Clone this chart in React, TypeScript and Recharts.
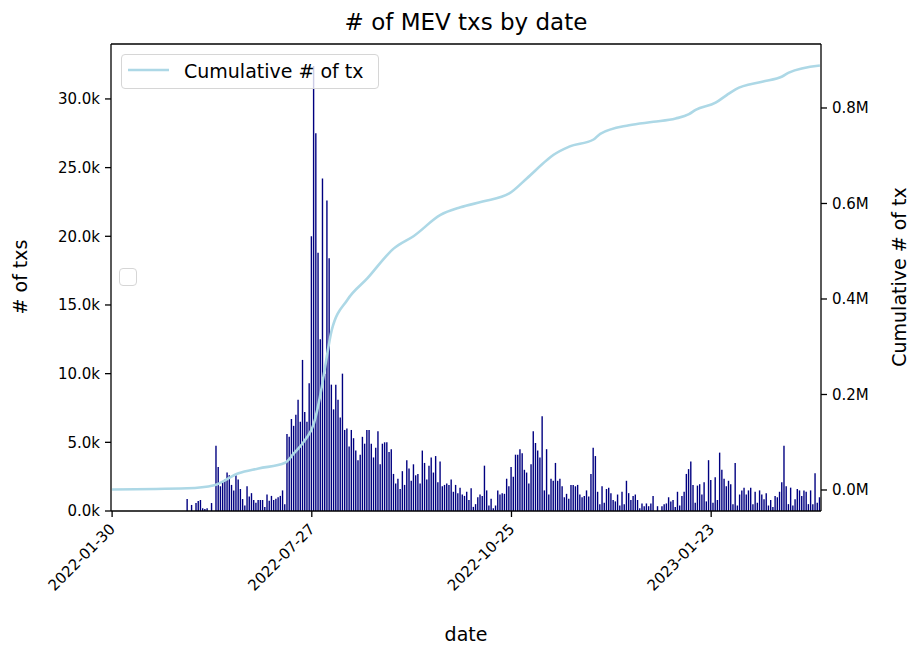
import { ComposedChart, Bar, Line, XAxis, YAxis, Legend, ReferenceLine } from 'recharts'

// daily MEV tx counts, one entry per date in the frame (index 0 = 2022-01-30)
const txCounts = [
  0, 0, 0, 0, 0, 0, 0, 0, 0, 0,
  0, 0, 0, 0, 0, 0, 0, 0, 0, 0,
  0, 0, 0, 0, 0, 0, 0, 0, 0, 0,
  0, 0, 0, 0, 870, 0, 440, 0, 580, 730,
  800, 200, 150, 200, 0, 580, 0, 4750, 3200, 1800,
  2100, 2300, 2800, 2600, 1900, 1500, 2600, 2300, 1600, 870,
  400, 1800, 1050, 1300, 800, 600, 800, 800, 800, 300,
  1200, 750, 1100, 800, 900, 1000, 1100, 1500, 500, 5600,
  5400, 6700, 6200, 7000, 8100, 6500, 11000, 7200, 6500, 9300,
  20000, 32400, 27500, 18800, 12500, 24200, 10000, 22600, 18400, 9200,
  7400, 9200, 8100, 6800, 10000, 5900, 6000, 4700, 5900, 5300,
  4400, 3700, 4100, 5400, 4900, 5900, 5900, 4900, 3900, 4600,
  5800, 3400, 4900, 5000, 5000, 4300, 4500, 2700, 2000, 2350,
  1600, 2900, 1900, 3700, 3100, 2200, 3400, 2600, 2700, 2000,
  4400, 3500, 2300, 3300, 3900, 2800, 4000, 2100, 3600, 1800,
  1900, 2000, 1900, 2300, 1400, 1900, 1300, 1700, 1200, 1100,
  1400, 800, 1650, 300, 500, 1000, 1200, 1100, 3300, 1500,
  400, 900, 200, 400, 1500, 1200, 1300, 1250, 2350, 1800,
  3200, 2500, 4100, 4100, 4500, 4200, 3000, 2800, 2000, 3400,
  5800, 4950, 4400, 3900, 6900, 1500, 4500, 1200, 2350, 2200,
  3500, 2200, 2350, 1800, 1000, 1250, 900, 1900, 1900, 1800,
  1900, 1200, 1000, 1100, 1500, 1050, 2700, 4600, 4000, 1400,
  500, 1800, 600, 1600, 1700, 1300, 800, 700, 1200, 400,
  1400, 500, 2200, 1300, 800, 1100, 1200, 800, 200, 550,
  350, 550, 350, 550, 1100, 0, 350, 0, 350, 500,
  550, 1000, 700, 800, 300, 1400, 400, 1100, 1400, 2700,
  3050, 3600, 1900, 600, 1850, 1950, 1200, 2100, 700, 3700,
  2250, 600, 2450, 800, 4250, 3000, 2350, 1800, 2200, 1950,
  500, 3500, 400, 1200, 1500, 1700, 1200, 1500, 1700, 500,
  1400, 600, 1500, 1200, 850, 1300, 400, 800, 300, 1100,
  1000, 1400, 2100, 4750, 1800, 500, 1700, 400, 850, 1600,
  1500, 1100, 1500, 1400, 500, 1500, 500, 2750, 600, 1000,
]

// cumulative line at these positions
const cumIndex = [0, 34, 46, 57, 66, 78, 82, 87, 91, 94, 96, 99, 106, 115, 127, 136, 148, 157, 167, 179, 187, 196, 199, 206, 217, 220, 233, 244, 254, 260, 263, 272, 277, 281, 293, 302, 305, 319]
const cumValues = [1000, 3500, 10000, 35000, 45000, 57000, 77000, 105000, 140000, 203000, 258000, 335000, 398000, 443000, 506000, 532000, 576000, 592000, 604000, 621000, 653000, 691000, 702000, 719000, 734000, 746000, 764000, 771000, 778000, 787000, 796000, 811000, 827000, 839000, 855000, 866000, 874000, 889000]

const dateTickIndex = [0, 90, 180, 270]
const dateTickLabels = ['2022-01-30', '2022-07-27', '2022-10-25', '2023-01-23']
const countTicks = [0, 5000, 10000, 15000, 20000, 25000, 30000]
const cumTicks = [0, 200000, 400000, 600000, 800000]

const data = txCounts.map((count, i) => ({ i, count, cum: null as number | null }))
cumIndex.forEach((idx, k) => { data[idx].cum = cumValues[k] })

const FONT = 'DejaVu Sans, sans-serif'
const TICK_SIZE = 15
const LABEL_SIZE = 19
const tickStyle = { fontSize: TICK_SIZE, fill: '#000', fontFamily: FONT }
const axisStroke = { stroke: '#000', strokeWidth: 1.3 }

function DateTick(props: any) {
  const { x, y, payload } = props
  const label = dateTickLabels[dateTickIndex.indexOf(payload.value)]
  const tx = x + 4
  const ty = y + 11
  return (
    <text x={tx} y={ty} textAnchor="end" transform={`rotate(-45 ${tx} ${ty})`}
      style={{ fontSize: TICK_SIZE, fill: '#000', fontFamily: FONT }}>
      {label}
    </text>
  )
}

function LegendBox(props: any) {
  const item = (props.payload || []).find((p: any) => p.dataKey === 'cum')
  if (!item) return null
  return (
    <div style={{
      width: 258, height: 35, boxSizing: 'border-box',
      border: '1px solid #d6d6d6', borderRadius: 4,
      background: 'rgba(255,255,255,0.8)',
      display: 'flex', alignItems: 'center', paddingLeft: 6,
      fontFamily: FONT, fontSize: LABEL_SIZE, color: '#000', whiteSpace: 'nowrap'
    }}>
      <svg width={41} height={4} style={{ display: 'block', marginTop: -4 }}>
        <line x1={0} y1={2} x2={41} y2={2} stroke={item.color} strokeWidth={2.6} />
      </svg>
      <span style={{ marginLeft: 15, marginTop: -2 }}>{item.value}</span>
    </div>
  )
}

export default function App() {
  return (
    <div style={{ position: 'absolute', left: 0, top: 0, width: 909, height: 648, background: '#fff', fontFamily: FONT }}>
      <div style={{ position: 'absolute', left: 111, width: 710, top: 8, textAlign: 'center', fontSize: 23, lineHeight: '28px', color: '#000' }}>
        # of MEV txs by date
      </div>

      <ComposedChart width={909} height={648} data={data}
        margin={{ top: 44, right: 0, bottom: 0, left: 0 }}>
        <XAxis dataKey="i" type="category" ticks={dateTickIndex} interval={0}
          height={137} tick={<DateTick />} tickSize={6} tickMargin={2}
          axisLine={axisStroke} tickLine={axisStroke} />
        <YAxis yAxisId="left" width={111} domain={[0, 34000]} allowDataOverflow
          ticks={countTicks} tickFormatter={(v: number) => (v / 1000).toFixed(1) + 'k'}
          tick={tickStyle} tickSize={6} tickMargin={5}
          axisLine={axisStroke} tickLine={axisStroke} />
        <YAxis yAxisId="right" orientation="right" width={88} domain={[-44000, 934000]} allowDataOverflow
          ticks={cumTicks} tickFormatter={(v: number) => (v / 1000000).toFixed(1) + 'M'}
          tick={tickStyle} tickSize={6} tickMargin={5}
          axisLine={axisStroke} tickLine={axisStroke} />
        <ReferenceLine yAxisId="left" y={34000} stroke="#000" strokeWidth={1.3} />
        <Bar yAxisId="left" dataKey="count" fill="#000080" barSize={1.4} legendType="none" isAnimationActive={false} />
        <Line yAxisId="right" dataKey="cum" name="Cumulative # of tx" type="monotone" connectNulls
          stroke="#add8e6" strokeWidth={2.6} dot={false} activeDot={false} isAnimationActive={false} />
        <Legend layout="horizontal" verticalAlign="middle" align="center"
          wrapperStyle={{ left: 121, top: 54, width: 258, height: 35 }} content={<LegendBox />} />
      </ComposedChart>

      {/* empty legend frame left by the bar axis */}
      <div style={{ position: 'absolute', left: 119, top: 268, width: 18, height: 18, boxSizing: 'border-box', border: '1px solid #d6d6d6', borderRadius: 4 }} />

      <div style={{ position: 'absolute', left: 20, top: 277, transform: 'translate(-50%, -50%) rotate(-90deg)', whiteSpace: 'nowrap', fontSize: LABEL_SIZE, color: '#000' }}>
        # of txs
      </div>
      <div style={{ position: 'absolute', left: 899, top: 277, transform: 'translate(-50%, -50%) rotate(-90deg)', whiteSpace: 'nowrap', fontSize: LABEL_SIZE, color: '#000' }}>
        Cumulative # of tx
      </div>
      <div style={{ position: 'absolute', left: 466, top: 634, transform: 'translate(-50%, -50%)', whiteSpace: 'nowrap', fontSize: LABEL_SIZE, color: '#000' }}>
        date
      </div>
    </div>
  )
}
